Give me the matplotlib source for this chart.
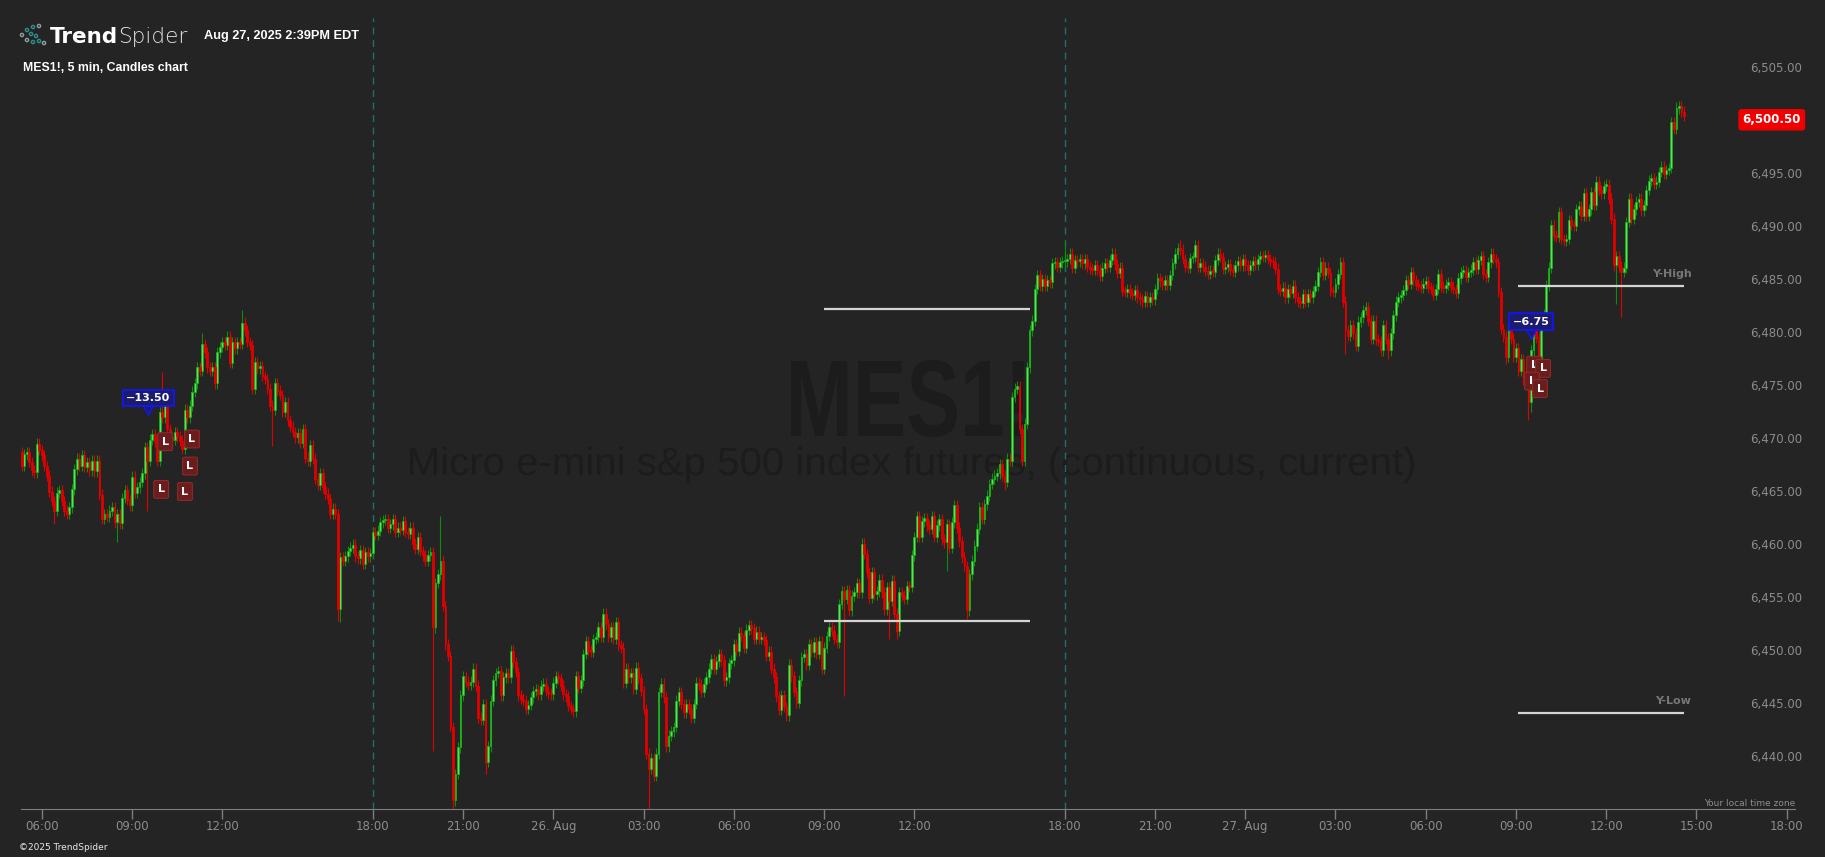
import numpy as np
import matplotlib
matplotlib.use('Agg')
import matplotlib.pyplot as plt
from matplotlib.patches import Circle, PathPatch
from matplotlib.textpath import TextPath
from matplotlib.font_manager import FontProperties
from matplotlib.transforms import blended_transform_factory, Affine2D

# MES1! 5 min closes (open of a bar = previous close)
first_open = 6468.8
closes_aug25 = [
    6467.5, 6468.6, 6468.8, 6467.9, 6467.1, 6466.9, 6469.6, 6469.0,                            # 05:20
    6468.5, 6467.5, 6466.6, 6465.1, 6464.2, 6463.3, 6465.0, 6465.2, 6464.2, 6463.3, 6463.0, 6463.6,  # 06:00
    6465.3, 6467.2, 6468.2, 6467.5, 6468.5, 6467.4, 6467.9, 6467.1, 6468.0, 6467.0, 6468.0, 6464.8,  # 07:00
    6462.5, 6463.0, 6462.7, 6463.3, 6463.6, 6462.2, 6463.0, 6462.1, 6464.5, 6465.2, 6464.3, 6463.8,  # 08:00
    6466.5, 6465.0, 6465.5, 6466.0, 6466.8, 6469.3, 6468.0, 6470.0, 6470.5, 6469.8, 6468.0, 6472.6,  # 09:00
    6472.1, 6473.7, 6471.0, 6470.2, 6470.0, 6470.7, 6470.3, 6469.9, 6469.1, 6472.8, 6472.1, 6473.2,  # 10:00
    6474.5, 6475.3, 6476.8, 6476.5, 6479.0, 6478.2, 6476.8, 6476.5, 6476.8, 6475.3, 6478.2, 6478.7,  # 11:00
    6479.2, 6478.9, 6479.7, 6477.2, 6479.2, 6478.6, 6479.2, 6479.0, 6481.0, 6480.3, 6479.2, 6478.9,  # 12:00
    6474.8, 6477.3, 6476.7, 6476.9, 6476.0, 6475.7, 6474.8, 6473.2, 6472.8, 6475.3, 6474.6, 6474.2,  # 13:00
    6472.6, 6473.5, 6471.8, 6471.2, 6470.7, 6470.2, 6470.6, 6469.7, 6471.0, 6468.3, 6468.0, 6469.5,  # 14:00
    6468.2, 6466.3, 6465.7, 6466.8, 6465.5, 6464.9, 6464.4, 6463.0, 6463.5, 6463.0, 6454.0, 6458.9,  # 15:00
    6458.6, 6459.0, 6459.5, 6459.8, 6460.1, 6459.0, 6458.8, 6459.6, 6458.3, 6459.4, 6459.0, 6459.3,  # 16:00
]
closes_aug26 = [
    6461.3, 6461.0, 6461.4, 6462.2, 6462.4, 6462.5, 6461.7, 6462.0, 6462.5, 6461.3, 6461.7, 6461.5,  # 18:00
    6462.3, 6461.3, 6461.1, 6461.7, 6460.2, 6459.7, 6460.8, 6459.5, 6459.1, 6458.6, 6459.1, 6459.4,  # 19:00
    6452.3, 6456.5, 6457.3, 6458.6, 6454.3, 6450.7, 6449.6, 6442.9, 6436.0, 6438.5, 6441.0, 6445.9,  # 20:00
    6447.7, 6447.2, 6446.9, 6447.2, 6448.4, 6446.8, 6443.8, 6443.6, 6445.1, 6439.6, 6441.1, 6445.4,  # 21:00
    6447.3, 6448.0, 6448.2, 6445.9, 6447.6, 6448.0, 6447.6, 6450.1, 6449.0, 6448.1, 6445.9, 6445.6,  # 22:00
    6445.4, 6444.6, 6445.0, 6445.7, 6446.3, 6446.5, 6446.0, 6446.8, 6447.0, 6446.3, 6446.1, 6446.0,  # 23:00
    6447.1, 6447.7, 6447.5, 6446.8, 6446.0, 6445.8, 6444.9, 6444.6, 6444.4, 6447.7, 6446.6, 6447.3,  # 00:00
    6449.8, 6451.0, 6450.1, 6450.0, 6451.2, 6451.4, 6452.3, 6451.4, 6453.6, 6452.6, 6451.4, 6452.3,  # 01:00
    6451.2, 6452.8, 6450.6, 6450.4, 6447.1, 6448.4, 6447.6, 6448.0, 6446.5, 6448.5, 6447.5, 6446.3,  # 02:00
    6444.6, 6440.4, 6439.0, 6440.0, 6438.3, 6440.4, 6446.2, 6447.0, 6445.7, 6441.1, 6442.1, 6442.5,  # 03:00
    6442.9, 6445.4, 6446.2, 6445.1, 6444.3, 6445.1, 6444.6, 6443.8, 6445.1, 6447.1, 6446.9, 6446.2,  # 04:00
    6447.0, 6447.6, 6448.4, 6449.3, 6448.4, 6449.1, 6449.8, 6449.2, 6447.3, 6447.6, 6448.9, 6449.2,  # 05:00
    6450.7, 6450.1, 6451.8, 6451.5, 6450.4, 6452.1, 6452.5, 6452.2, 6451.2, 6451.9, 6451.2, 6451.4,  # 06:00
    6451.1, 6449.6, 6450.0, 6448.4, 6447.6, 6445.8, 6444.5, 6445.9, 6444.8, 6444.0, 6448.8, 6447.7,  # 07:00
    6446.2, 6445.2, 6447.3, 6449.5, 6449.8, 6448.8, 6450.7, 6450.0, 6450.9, 6449.8, 6451.0, 6448.4,  # 08:00
    6450.4, 6451.5, 6452.3, 6452.0, 6451.2, 6450.9, 6454.5, 6455.7, 6455.0, 6455.8, 6453.9, 6455.3,  # 09:00
    6455.6, 6456.5, 6455.6, 6460.2, 6459.2, 6457.5, 6455.1, 6457.5, 6455.4, 6455.7, 6456.8, 6455.6,  # 10:00
    6454.0, 6456.1, 6454.8, 6456.7, 6453.6, 6452.0, 6455.6, 6455.3, 6455.0, 6456.2, 6456.1, 6459.1,  # 11:00
    6460.8, 6462.8, 6460.8, 6462.3, 6462.6, 6461.9, 6461.6, 6462.8, 6460.8, 6461.9, 6462.5, 6460.6,  # 12:00
    6460.3, 6462.0, 6459.8, 6462.2, 6463.8, 6461.7, 6460.4, 6458.9, 6458.1, 6453.9, 6457.3, 6458.6,  # 13:00
    6460.0, 6461.6, 6463.6, 6462.5, 6463.9, 6464.7, 6465.8, 6466.3, 6466.6, 6466.8, 6467.7, 6466.6,  # 14:00
    6466.0, 6468.2, 6468.0, 6474.0, 6474.8, 6475.0, 6471.0, 6468.0, 6471.5, 6476.8, 6480.3, 6481.2,  # 15:00
    6484.2, 6485.5, 6484.5, 6485.1, 6484.5, 6485.0, 6484.8, 6486.6, 6486.7, 6486.3, 6486.7, 6486.8,  # 16:00
]
closes_aug27 = [
    6486.8, 6487.0, 6487.5, 6486.2, 6486.9, 6486.8, 6487.0, 6486.6, 6487.0, 6486.3, 6486.1, 6486.0,  # 18:00
    6486.4, 6486.0, 6485.4, 6486.2, 6486.6, 6486.3, 6486.9, 6487.5, 6486.5, 6485.7, 6486.2, 6484.0,  # 19:00
    6483.9, 6484.2, 6483.8, 6483.6, 6484.1, 6483.4, 6483.2, 6483.0, 6483.5, 6483.0, 6483.4, 6483.2,  # 20:00
    6484.2, 6485.2, 6484.9, 6484.6, 6485.0, 6484.6, 6485.5, 6486.6, 6487.5, 6488.0, 6487.9, 6487.0,  # 21:00
    6486.3, 6486.2, 6487.1, 6487.2, 6488.3, 6486.3, 6486.6, 6486.3, 6485.9, 6485.6, 6485.9, 6485.8,  # 22:00
    6486.9, 6487.5, 6487.2, 6486.1, 6486.3, 6486.5, 6486.0, 6485.8, 6486.4, 6486.8, 6486.4, 6487.0,  # 23:00
    6486.4, 6486.0, 6486.4, 6486.8, 6486.5, 6487.0, 6487.3, 6487.2, 6487.4, 6487.0, 6486.8, 6486.7,  # 00:00
    6486.1, 6484.2, 6484.0, 6484.3, 6483.4, 6484.2, 6483.8, 6484.5, 6483.4, 6483.0, 6482.9, 6483.7,  # 01:00
    6483.0, 6483.7, 6483.4, 6484.0, 6484.5, 6485.8, 6486.7, 6485.5, 6486.2, 6485.7, 6484.0, 6483.9,  # 02:00
    6484.7, 6485.6, 6486.7, 6483.0, 6480.3, 6479.8, 6480.8, 6480.0, 6478.8, 6481.1, 6481.5, 6482.2,  # 03:00
    6482.5, 6481.2, 6479.5, 6481.2, 6479.4, 6479.3, 6478.4, 6480.8, 6479.5, 6478.4, 6480.0, 6481.7,  # 04:00
    6483.0, 6483.4, 6483.6, 6484.1, 6485.0, 6484.7, 6485.8, 6485.0, 6484.6, 6484.5, 6484.3, 6484.7,  # 05:00
    6484.9, 6484.3, 6484.2, 6483.6, 6484.2, 6485.6, 6484.4, 6484.3, 6484.6, 6484.8, 6484.4, 6484.2,  # 06:00
    6483.8, 6485.2, 6485.8, 6485.9, 6485.3, 6485.8, 6486.0, 6486.7, 6486.1, 6486.9, 6487.3, 6485.6,  # 07:00
    6485.3, 6486.7, 6487.5, 6487.0, 6486.7, 6483.9, 6480.4, 6479.7, 6477.8, 6480.4, 6479.5, 6477.8,  # 08:00
    6478.6, 6476.5, 6477.6, 6475.6, 6475.5, 6473.5, 6478.4, 6480.2, 6479.6, 6476.8, 6481.1, 6481.8,  # 09:00
    6484.5, 6486.2, 6490.2, 6489.2, 6489.1, 6491.4, 6488.9, 6488.7, 6488.9, 6490.7, 6490.2, 6490.1,  # 10:00
    6491.7, 6492.0, 6491.1, 6493.2, 6491.1, 6491.7, 6493.3, 6492.1, 6494.3, 6493.5, 6493.2, 6493.9,  # 11:00
    6494.0, 6492.7, 6490.8, 6486.4, 6487.3, 6486.3, 6485.8, 6486.2, 6490.5, 6492.7, 6490.8, 6491.7,  # 12:00
    6492.4, 6492.7, 6491.6, 6492.1, 6493.5, 6494.4, 6494.6, 6494.1, 6494.3, 6495.2, 6495.7, 6495.0,  # 13:00
    6495.4, 6495.6, 6499.9, 6499.3, 6501.2, 6501.4, 6500.9, 6500.5,                            # 14:00
]
# bars whose wicks stick out well past the body
long_highs = {56: 6476.4, 72: 6480.0, 88: 6482.2, 167: 6462.8, 416: 6488.8, 462: 6488.8, 660: 6501.8}
long_lows = {13: 6462.0, 38: 6460.3, 50: 6463.3, 100: 6469.4, 126: 6452.9, 127: 6452.8, 164: 6440.7,
             172: 6434.0, 185: 6438.5, 250: 6435.0, 328: 6445.8, 346: 6451.2, 349: 6451.2, 369: 6457.6,
             377: 6453.1, 392: 6465.2, 528: 6478.1, 545: 6477.6, 592: 6477.1, 601: 6471.8, 602: 6472.6,
             636: 6482.8, 638: 6481.5}

tick_bars = [8, 44, 80, 140, 176, 212, 248, 284, 320, 356, 416, 452, 488, 524, 560, 596, 632, 668, 704]
tick_labels = ['06:00', '09:00', '12:00', '18:00', '21:00', '26. Aug', '03:00', '06:00', '09:00', '12:00',
               '18:00', '21:00', '27. Aug', '03:00', '06:00', '09:00', '12:00', '15:00', '18:00']
session_bars = [140, 416]
price_ticks = list(range(6440, 6510, 5))

# horizontal levels: (start bar, end bar, price)
range_levels = [(320, 402, 6482.3), (320, 402, 6452.9)]
yday_levels = [(597, 663, 6484.5, 'Y-High'), (597, 663, 6444.25, 'Y-Low')]

long_bars = [57.2, 67.9, 67.1, 55.6, 65.1, 603.2, 606.8, 602.4, 605.6]
long_prices = [6469.8, 6470.05, 6467.5, 6465.3, 6465.1, 6477.0, 6476.7, 6475.5, 6474.8]
pnl_bars = [50.4, 602.0]
pnl_prices = [6473.9, 6481.1]
pnl_labels = ['\u221213.50', '\u22126.75']

BG = '#242424'
W, H = 1825, 857

closes = np.array(closes_aug25 + closes_aug26 + closes_aug27)
opens = np.r_[first_open, closes[:-1]]
x = np.arange(len(closes))
top = np.maximum(opens, closes)
bot = np.minimum(opens, closes)
highs = top + 0.5
lows = bot - 0.5
for k, v in long_highs.items():
    highs[k] = max(highs[k], v)
for k, v in long_lows.items():
    lows[k] = min(lows[k], v)
up = closes >= opens

fig = plt.figure(figsize=(W / 100, H / 100), dpi=100, facecolor=BG)
ax = fig.add_axes([21 / W, 48 / H, 1774 / W, 809 / H])
ax.set_facecolor(BG)
ax.set_xlim(-0.3, 707.3)
ax.set_ylim(6435.19, 6511.41)


def narrow_text(s, x0, x1, cap_top, baseline, color, weight='normal'):
    # condensed watermark text, stretched into a pixel box (top-left origin)
    fp = FontProperties(family=['Liberation Sans', 'DejaVu Sans'], weight=weight)
    tp = TextPath((0, 0), s, size=100, prop=fp)
    cap = TextPath((0, 0), 'M', size=100, prop=fp)
    bb = tp.get_extents()
    sy = (baseline - cap_top) / cap.get_extents().y1
    sx = (x1 - x0) / bb.width
    tr = Affine2D().translate(-bb.x0, 0).scale(sx, sy).translate(x0, H - baseline)
    fig.add_artist(PathPatch(tp, transform=tr, fc=color, ec='none', zorder=0))


narrow_text('MES1!', 791, 1024, 361, 436, '#1c1c1c', weight='bold')
narrow_text('Micro e-mini s&p 500 index futures, (continuous, current)', 410, 1414, 448, 475, '#1c1c1c')
ax.patch.set_alpha(0)

for b in session_bars:
    ax.axvline(b, ymin=0, ymax=1 - 18 / 809, color='#1f6e6e', lw=1, ls=(0, (5, 4)), zorder=1)

# candles
ax.vlines(x[up], lows[up], highs[up], colors='#0e8c0e', lw=0.8, zorder=2)
ax.vlines(x[~up], lows[~up], highs[~up], colors='#e00000', lw=0.8, zorder=2)
hgt = np.maximum(top - bot, 0.15)
ax.bar(x[up], hgt[up], bottom=bot[up], width=0.72, color='#62dc62', edgecolor='#14b014', lw=0.6, zorder=3)
ax.bar(x[~up], hgt[~up], bottom=bot[~up], width=0.72, color='#e00000', edgecolor='#e00000', lw=0.6, zorder=3)

for b0, b1, p in range_levels:
    ax.hlines(p, b0, b1, color='#d4d4d4', lw=1.6, zorder=4)
for b0, b1, p, lab in yday_levels:
    ax.hlines(p, b0, b1, color='#d4d4d4', lw=1.6, zorder=4)
    ax.annotate(lab, (b1 + 3, p), xytext=(0, 5), textcoords='offset points', ha='right', va='bottom',
                fontsize=8, color='#767676', fontweight='bold', zorder=5)

for b, p in zip(long_bars, long_prices):
    ax.text(b, p, 'L', ha='center', va='center', fontsize=8, color='white', fontweight='bold', zorder=7,
            bbox=dict(boxstyle='round,pad=0.35,rounding_size=0.15', fc='#6b1c1c', ec='#8d2a2a', lw=0.8))
for b, p, lab in zip(pnl_bars, pnl_prices, pnl_labels):
    ax.plot(b, p - 1.15, marker='v', ms=7, color='#1c1c6e', mec='#1414ff', mew=1, zorder=7)
    ax.text(b, p, lab, ha='center', va='center', fontsize=8, color='white', fontweight='bold', zorder=8,
            bbox=dict(boxstyle='square,pad=0.3', fc='#1c1c6e', ec='#1414ff', lw=1.2))

# axes styling
for s in ['top', 'left', 'right']:
    ax.spines[s].set_visible(False)
ax.spines['bottom'].set_color('#7d7d7d')
ax.set_xticks(tick_bars)
ax.set_xticklabels(tick_labels)
ax.tick_params(axis='x', colors='#7d7d7d', labelcolor='#8c8c8c', labelsize=8.5, length=7, width=1, pad=1)
ax.set_yticks([])

last = closes[-1]
tr = blended_transform_factory(fig.transFigure, ax.transData)
for p in price_ticks:
    if abs(p - last) < 2.5:
        continue  # hidden behind the last-price badge
    fig.text(1802 / W, p, f'{p:,.2f}', transform=tr, ha='right', va='center', fontsize=8.5, color='#8c8c8c')
ax.annotate(f'{last:,.2f}', xy=(1802 / W, last), xycoords=tr, xytext=(-1, -4), textcoords='offset pixels',
            ha='right', va='center', fontsize=8.5, color='white', fontweight='bold', annotation_clip=False,
            bbox=dict(boxstyle='round,pad=0.3,rounding_size=0.2', fc='#f00000', ec='#f00000'))

fig.text(1795 / W, 1 - 804 / H, 'Your local time zone', ha='right', va='center', fontsize=6.5, color='#8c8c8c')
fig.text(19 / W, 1 - 848 / H, '\u00a92025 TrendSpider', ha='left', va='center', fontsize=6.5, color='#e8e8e8')

# header
t1 = fig.text(50 / W, 1 - 43 / H, 'Trend', ha='left', va='baseline', fontsize=15.5, color='white',
              fontweight='bold')
r = fig.canvas.get_renderer()
bb = t1.get_window_extent(renderer=r)
fig.text(bb.x1 / W, 1 - 43 / H, 'Spider', ha='left', va='baseline', fontsize=15.5, color='#e4e4e4',
         family='DejaVu Sans', fontweight='light')
fig.text(204 / W, 1 - 36 / H, 'Aug 27, 2025 2:39PM EDT', ha='left', va='center', fontsize=9.2, color='white',
         fontweight='bold', family=['Liberation Sans', 'DejaVu Sans'])
fig.text(23 / W, 1 - 68 / H, 'MES1!, 5 min, Candles chart', ha='left', va='center', fontsize=8.8,
         color='white', fontweight='bold', family=['Liberation Sans', 'DejaVu Sans'])

# logo icon
lax = fig.add_axes([18 / W, 1 - 48 / H, 30 / W, 26 / H])
lax.set_xlim(18, 48)
lax.set_ylim(48, 22)
lax.axis('off')
nodes = [(22, 35), (27, 30), (33, 27), (39, 26), (31, 34), (36, 36), (27, 40), (33, 42), (39, 41), (44, 43)]
for i, (cx, cy) in enumerate(nodes):
    col = '#2f8f8f' if i % 3 else '#8fa0a0'
    lax.add_patch(Circle((cx, cy), 1.6, fill=False, ec=col, lw=1))

fig.savefig('out.png', dpi=100, facecolor=BG)
